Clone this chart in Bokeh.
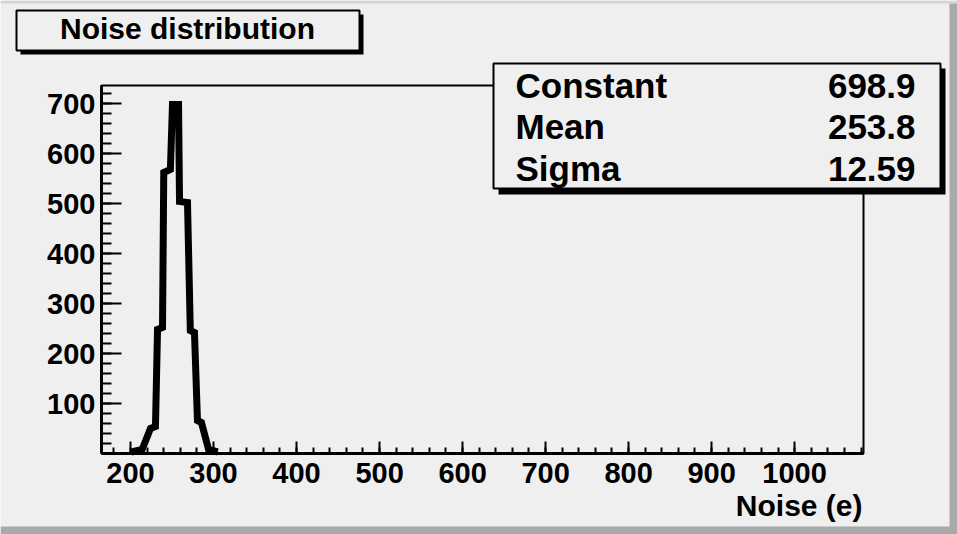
from bokeh.plotting import figure
from bokeh.models import Range1d, FixedTicker, Label, BoxAnnotation
from bokeh.embed import file_html
from bokeh.resources import INLINE

# Histogram outline of the noise distribution (electrons vs entries)
noise_e = [201, 214, 224, 230, 232.5, 238.5, 240, 248, 250.5, 257.8, 259, 268.6,
           272, 277, 280.6, 285.4, 294, 305]
entries = [3, 8, 50, 54, 248, 252, 562, 568, 698, 698, 504, 502,
           246, 242, 66, 62, 8, 3]

# Gaussian fit parameters shown in the stats box
fit_names = ["Constant", "Mean", "Sigma"]
fit_values = ["698.9", "253.8", "12.59"]

x_major = [200, 300, 400, 500, 600, 700, 800, 900, 1000]
y_major = [100, 200, 300, 400, 500, 600, 700]

X_LO, X_HI = 165, 1083      # histogram axis range
Y_LO, Y_HI = 0, 736

W, H = 957, 534
FL, FR, FT, FB = 101, 863, 85, 453   # pad frame edges in canvas pixels
BG = "#efefef"
FONT = "Liberation Sans"

# the plot frame spans the whole canvas; the axes are pinned inside it
kx = (FR - FL) / (X_HI - X_LO)
ky = (FB - FT) / (Y_HI - Y_LO)
x_range = Range1d(X_LO - FL / kx, X_HI + (W - FR) / kx)
y_range = Range1d(Y_LO - (H - FB) / ky, Y_HI + FT / ky)

p = figure(width=W, height=H, output_backend="svg", toolbar_location=None,
           x_range=x_range, y_range=y_range,
           min_border_left=0, min_border_right=0,
           min_border_top=0, min_border_bottom=0)
p.background_fill_color = BG
p.border_fill_color = BG
p.grid.visible = False
p.outline_line_color = None

xa, ya = p.xaxis[0], p.yaxis[0]
xa.fixed_location = Y_LO
ya.fixed_location = X_LO
xa.bounds = (X_LO, X_HI)
ya.bounds = (Y_LO, Y_HI)

for ax in (xa, ya):
    ax.axis_line_width = 3
    ax.axis_line_color = "black"
    ax.major_tick_line_color = "black"
    ax.minor_tick_line_color = "black"
    ax.major_tick_line_width = 2
    ax.minor_tick_line_width = 2
    ax.major_tick_out = 0
    ax.minor_tick_out = 0
    ax.major_label_text_font = FONT
    ax.major_label_text_font_style = "bold"
    ax.major_label_text_font_size = "29px"
    ax.major_label_text_color = "black"

xa.ticker = FixedTicker(ticks=x_major, minor_ticks=list(range(180, 1081, 20)))
xa.major_tick_in = 12
xa.minor_tick_in = 6
xa.major_label_standoff = 9

ya.ticker = FixedTicker(ticks=y_major, minor_ticks=list(range(20, 736, 20)))
ya.major_tick_in = 20
ya.minor_tick_in = 10
ya.major_label_standoff = 6

# pad frame
p.add_layout(BoxAnnotation(left=X_LO, right=X_HI, bottom=Y_LO, top=Y_HI,
                           fill_alpha=0, line_color="black", line_alpha=1.0,
                           line_width=2, level="underlay"))

p.line(noise_e, entries, line_color="black", line_width=7, line_join="miter")


def box(l, t, r, b, fill, line=None, lw=0):
    p.add_layout(BoxAnnotation(left=l, right=r, top=H - t, bottom=H - b,
                               left_units="screen", right_units="screen",
                               top_units="screen", bottom_units="screen",
                               fill_color=fill, fill_alpha=1.0,
                               line_color=line, line_width=lw, line_alpha=1.0 if line else 0,
                               level="overlay"))


def text(cx, base, s, size, align="left"):
    # base is the wanted baseline row; the label sits a little low, so lift it
    lift = 0.37 * size
    p.add_layout(Label(x=cx, y=H - base + lift, x_units="screen", y_units="screen", text=s,
                       text_font=FONT, text_font_style="bold",
                       text_font_size=f"{size}px", text_color="black",
                       text_align=align, text_baseline="alphabetic", level="overlay"))


# canvas bevel
box(0, 0, W, 3, "#d4d4d4")
box(W - 8, 3, W, H, "#a9a9a9")
box(0, H - 8, W, H, "#a9a9a9")

# title box with shadow
box(20, 14, 363, 54, "black")
box(16, 10, 359, 50, BG, "black", 2)
text(187, 39, "Noise distribution", 30, "center")

# fit statistics box with shadow
box(498, 68, 945, 194, "black")
box(493, 63, 940, 188, BG, "black", 2)
for i, (name, val) in enumerate(zip(fit_names, fit_values)):
    base = [98, 139, 181][i]
    text(515, base, name, 35, "left")
    text(915, base, val, 35, "right")

# x axis title
text(862, 516, "Noise (e)", 30, "right")

open("out.html", "w").write(file_html(p, INLINE))
